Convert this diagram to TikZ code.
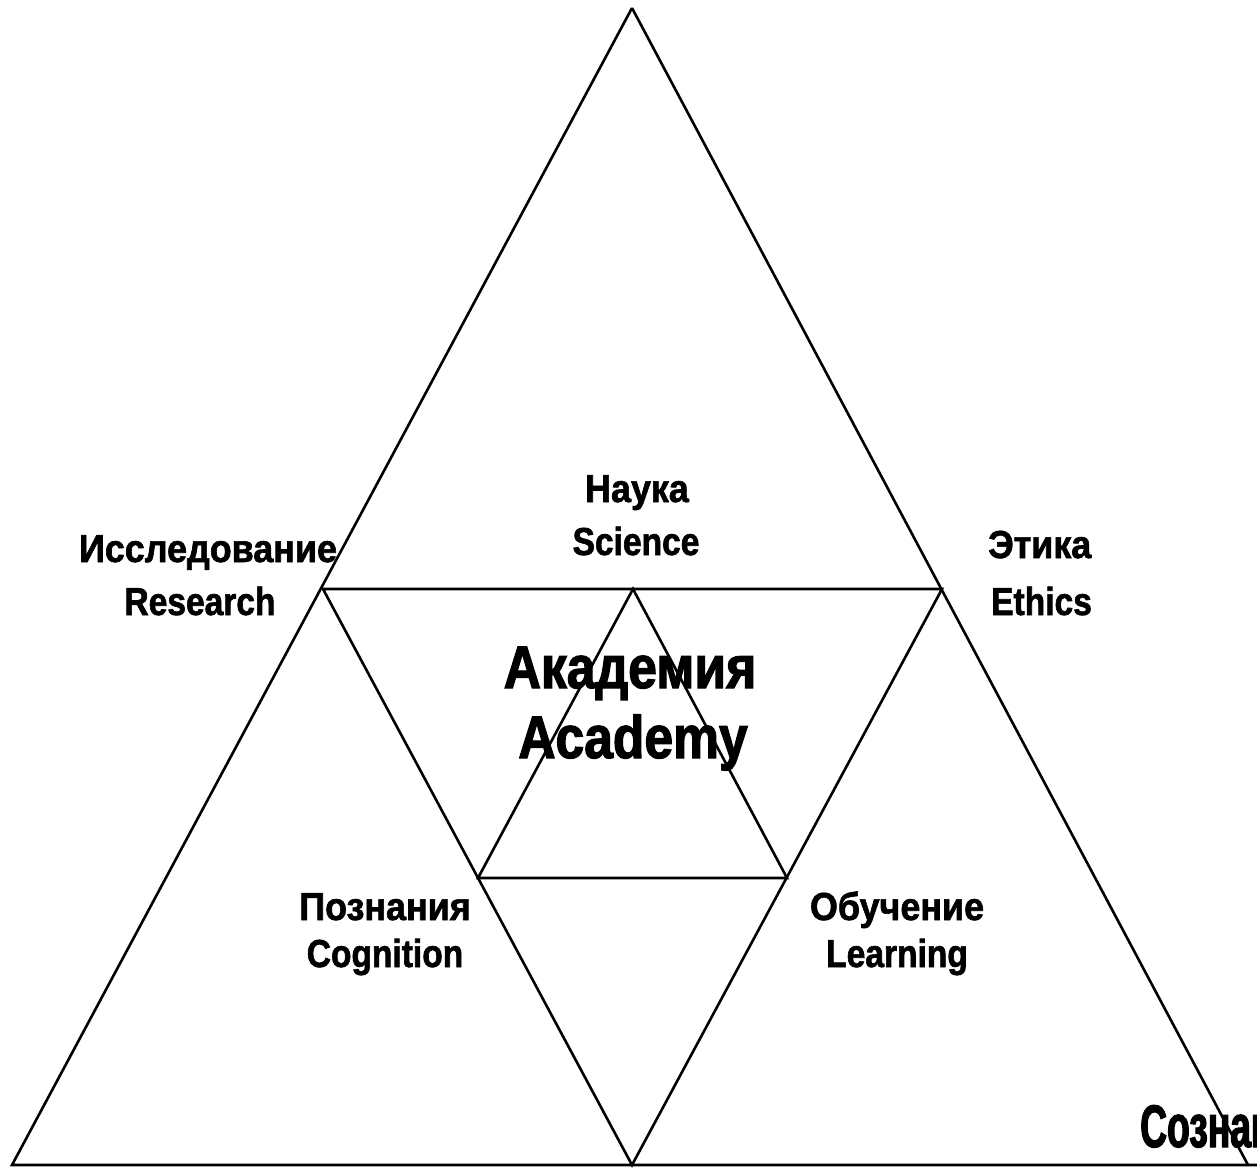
\documentclass[tikz,border=0pt]{standalone}
\usepackage{fontspec}
\newfontfamily\labfont{Liberation Sans Bold}[FakeStretch=0.92,FakeBold=1.6]
\newfontfamily\latfont{Liberation Sans Bold}[FakeStretch=0.86,FakeBold=1.6]
\newfontfamily\bigfont{Liberation Sans Bold}[FakeStretch=0.86,FakeBold=2]
\newfontfamily\cutfont{Liberation Sans Bold}[FakeStretch=0.62,FakeBold=2]
\begin{document}
\begin{tikzpicture}[x=1pt,y=-1pt,
  edge/.style={line width=2.6pt,line join=miter,black},
  lab/.style={inner sep=0pt,font=\labfont\fontsize{39}{44}\selectfont},
  latlab/.style={inner sep=0pt,font=\latfont\fontsize{39}{44}\selectfont},
  biglab/.style={inner sep=0pt,font=\bigfont\fontsize{60}{70}\selectfont},
  cutlab/.style={inner sep=0pt,font=\cutfont\fontsize{60}{70}\selectfont}]
\useasboundingbox (0,0) rectangle (1257,1167);
% vertices
\coordinate (A) at (632,8);
\coordinate (B) at (12,1165);
\coordinate (C) at (1248,1165);
\coordinate (Bend) at (1260,1165);
\coordinate (L) at (323,589);
\coordinate (R) at (942,589);
\coordinate (M) at (632,1165);
\coordinate (T) at (633,589);
\coordinate (IL) at (478,878);
\coordinate (IR) at (787,878);
% labels
\node[lab,anchor=base] (nauka) at (637,502) {Наука};
\node[latlab,anchor=base] (science) at (636,555) {Science};
\node[lab,anchor=base] (issl) at (208,562) {Исследование};
\node[latlab,anchor=base] (research) at (200,615) {Research};
\node[lab,anchor=base west] (etika) at (988,558) {Этика};
\node[latlab,anchor=base west] (ethics) at (991,615) {Ethics};
\node[biglab,anchor=base] (akad) at (630,688) {Академия};
\node[biglab,anchor=base] (academy) at (633,758) {Academy};
\node[lab,anchor=base] (pozn) at (385,920) {Познания};
\node[latlab,anchor=base] (cogn) at (385,967) {Cognition};
\node[lab,anchor=base] (obuch) at (897,920) {Обучение};
\node[latlab,anchor=base] (learn) at (897,967) {Learning};
\node[cutlab,anchor=base west] (sozn) at (1140,1147) {Сознание};
% lines
\draw[edge] (A) -- (B) -- (Bend);
\draw[edge] (A) -- (C);
\draw[edge] (L) -- (R) -- (M) -- cycle;
\draw[edge] (T) -- (IL) -- (IR) -- cycle;
\end{tikzpicture}
\end{document}
